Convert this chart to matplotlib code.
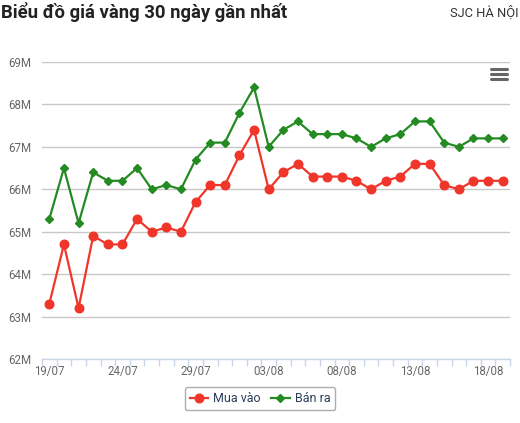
import matplotlib
matplotlib.use("Agg")
from matplotlib import pyplot as plt
import numpy as np

plt.rcParams['font.family'] = ['Roboto', 'DejaVu Sans']

days = ['19/07', '20/07', '21/07', '22/07', '23/07', '24/07', '25/07', '26/07',
        '27/07', '28/07', '29/07', '30/07', '31/07', '01/08', '02/08', '03/08',
        '04/08', '05/08', '06/08', '07/08', '08/08', '09/08', '10/08', '11/08',
        '12/08', '13/08', '14/08', '15/08', '16/08', '17/08', '18/08', '19/08']

# triệu đồng / lượng
mua_vao = [63.3, 64.7, 63.2, 64.9, 64.7, 64.7, 65.3, 65.0, 65.1, 65.0, 65.7,
           66.1, 66.1, 66.8, 67.4, 66.0, 66.4, 66.6, 66.3, 66.3, 66.3, 66.2,
           66.0, 66.2, 66.3, 66.6, 66.6, 66.1, 66.0, 66.2, 66.2, 66.2]
ban_ra = [65.3, 66.5, 65.2, 66.4, 66.2, 66.2, 66.5, 66.0, 66.1, 66.0, 66.7,
          67.1, 67.1, 67.8, 68.4, 67.0, 67.4, 67.6, 67.3, 67.3, 67.3, 67.2,
          67.0, 67.2, 67.3, 67.6, 67.6, 67.1, 67.0, 67.2, 67.2, 67.2]

y_ticks = [62, 63, 64, 65, 66, 67, 68, 69]

fig = plt.figure(figsize=(5.2, 4.23), dpi=100)
ax = fig.add_axes([42 / 520, 64 / 423, 468 / 520, 297 / 423])

x = np.arange(len(days))
ax.plot(x, mua_vao, color='#f0362a', lw=1.6, marker='o', ms=6.2,
        label='Mua vào', zorder=3)
ax.plot(x, ban_ra, color='#238b22', lw=1.6, marker='D', ms=3.8,
        label='Bán ra', zorder=3)

ax.set_xlim(-0.5, len(days) - 0.5)
ax.set_ylim(62, 69)
ax.set_yticks(y_ticks)
ax.set_yticklabels([f'{v}M' for v in y_ticks])
ax.set_xticks(x[::5])
ax.set_xticklabels(days[::5])
ax.set_xticks(np.arange(-0.5, len(days)), minor=True)

ax.grid(axis='y', color='#c8c8c8', lw=1)
ax.set_axisbelow(True)
for s in ['top', 'right', 'left']:
    ax.spines[s].set_visible(False)
ax.spines['bottom'].set_color('#ccd6eb')
ax.spines['bottom'].set_linewidth(1)
ax.tick_params(axis='y', length=0, pad=8, labelsize=8.3, labelcolor='#666666')
ax.tick_params(axis='x', which='major', length=0, pad=4, labelsize=8.3,
               labelcolor='#666666')
ax.tick_params(axis='x', which='minor', length=5, width=1, color='#ccd6eb')

fig.text(0.002, 1 - 12 / 423, 'Biểu đồ giá vàng 30 ngày gần nhất',
         fontsize=13.3, fontweight='bold', color='#222222', va='center', ha='left')
fig.text(519 / 520, 1 - 12 / 423, 'SJC HÀ NỘI', fontsize=9.3, color='#333333',
         va='center', ha='right')

# nút menu
for yy in [69, 74, 79]:
    fig.add_artist(plt.Line2D([491 / 520, 507 / 520], [1 - yy / 423] * 2,
                              color='#666666', lw=2.2, solid_capstyle='round'))

leg = fig.legend(loc='upper center', bbox_to_anchor=(260 / 520, 1 - 381 / 423),
                 ncol=2, frameon=True, fontsize=9, handlelength=1.5,
                 columnspacing=0.8, handletextpad=0.4, borderpad=0.4,
                 fancybox=True)
leg.get_frame().set_edgecolor('#999999')
leg.get_frame().set_linewidth(1)
for t in leg.get_texts():
    t.set_color('#2c3e5a')

fig.savefig('out.png', dpi=100)
